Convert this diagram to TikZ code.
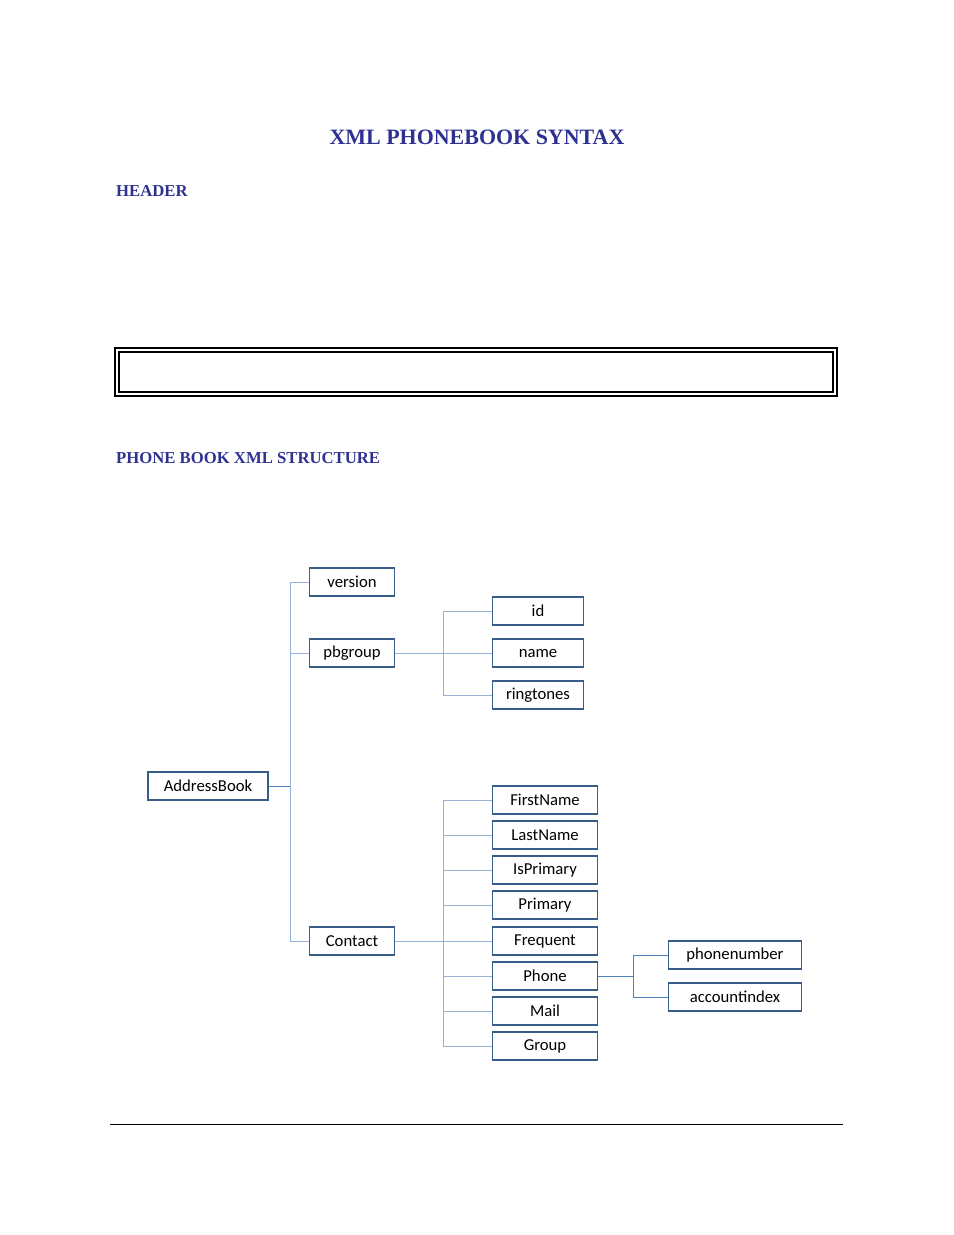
\documentclass[tikz,border=0pt]{standalone}
\usepackage{fontspec}
\setmainfont{Liberation Serif}
\newfontfamily\boxfont{Carlito}
\definecolor{titleblue}{HTML}{2E3192}
\definecolor{boxline}{HTML}{385D8A}
\definecolor{linkblue}{HTML}{95B3D7}
\definecolor{darklink}{HTML}{4F81BD}
\begin{document}
\begin{tikzpicture}[x=0.02cm,y=-0.02cm]
    \tikzset{Caja/.style = {draw=boxline,line width=1.1pt,inner sep=0pt,minimum height=0.56cm,font=\boxfont\fontsize{9.5}{11}\selectfont}}
    \tikzset{Enlace/.style = {linkblue,line width=0.5pt}}
    \tikzset{Titulo/.style = {titleblue,font=\bfseries\fontsize{12.5}{14}\selectfont}}
    \tikzset{Seccion/.style = {titleblue,anchor=west,font=\bfseries\fontsize{9.5}{11}\selectfont}}

    \useasboundingbox (0,0) rectangle (954,1235);

    \node[Titulo] (titulo) at (477,137) {XML PHONEBOOK SYNTAX};
    \node[Seccion] (header) at (110,191) {HEADER};
    \node[Seccion] (estructura) at (110,458) {PHONE BOOK XML STRUCTURE};

    %Caja doble del encabezado
    \draw[line width=0.6pt] (115,348) rectangle (837,396);
    \draw[line width=0.6pt] (119,352) rectangle (833,392);

    %Raiz y primer nivel
    \node[Caja,minimum width=2.4cm] (addressbook) at (208,786) {AddressBook};
    \node[Caja,minimum width=1.7cm] (version) at (352,582) {version};
    \node[Caja,minimum width=1.7cm] (pbgroup) at (352,653) {pbgroup};
    \node[Caja,minimum width=1.7cm] (contact) at (352,941) {Contact};

    %Hijos de pbgroup
    \node[Caja,minimum width=1.82cm] (id) at (538,611) {id};
    \node[Caja,minimum width=1.82cm] (name) at (538,653) {name};
    \node[Caja,minimum width=1.82cm] (ringtones) at (538,695) {ringtones};

    %Hijos de Contact
    \foreach \etiqueta/\y in {FirstName/800,LastName/835,IsPrimary/870,Primary/905,Frequent/941,Phone/976,Mail/1011,Group/1046}
        \node[Caja,minimum width=2.1cm] (\etiqueta) at (545,\y) {\etiqueta};

    %Hijos de Phone
    \node[Caja,minimum width=2.66cm] (phonenumber) at (735,955) {phonenumber};
    \node[Caja,minimum width=2.66cm] (accountindex) at (735,997) {accountindex};

    %Troncos
    \coordinate (troncoA) at (290,786);
    \coordinate (troncoB) at (443,653);
    \coordinate (troncoC) at (443,941);
    \coordinate (troncoD) at (633,976);

    \draw[darklink,line width=0.5pt] (addressbook) -- (troncoA);
    \foreach \hijo in {version,pbgroup,contact}
        \draw[Enlace] (troncoA) |- (\hijo.west);

    \draw[Enlace] (pbgroup) -- (troncoB);
    \foreach \hijo in {id,name,ringtones}
        \draw[Enlace] (troncoB) |- (\hijo.west);

    \draw[Enlace] (contact) -- (troncoC);
    \foreach \hijo in {FirstName,LastName,IsPrimary,Primary,Frequent,Phone,Mail,Group}
        \draw[Enlace] (troncoC) |- (\hijo.west);

    \draw[darklink,line width=0.5pt] (Phone) -- (troncoD);
    \foreach \hijo in {phonenumber,accountindex}
        \draw[darklink,line width=0.5pt] (troncoD) |- (\hijo.west);

    %Linea del pie
    \draw[line width=0.5pt] (110,1124) -- (843,1124);
\end{tikzpicture}
\end{document}
